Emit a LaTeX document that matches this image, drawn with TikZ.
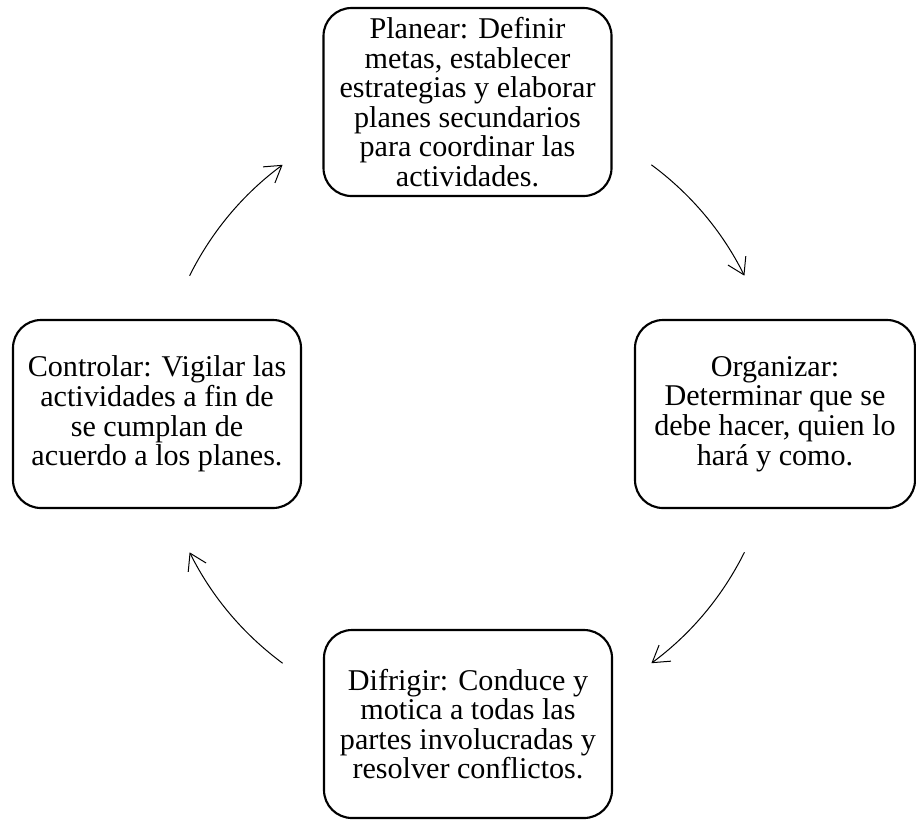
\documentclass[tikz,border=0pt]{standalone}
\usepackage{fontspec}
\setmainfont{Liberation Serif}
\usetikzlibrary{arrows.meta}
\begin{document}
\begin{tikzpicture}
    [
    x=0.75pt,y=-0.75pt,
    stage/.style={draw,line width=1.6pt,rounded corners=21pt,align=center,inner sep=2pt,
      minimum width=216pt,minimum height=141pt,font=\fontsize{22.6}{22.2}\selectfont},
    flowarrow/.style={line width=0.75pt,-{Straight Barb[length=12pt,width=15pt]},bend left=13.5,looseness=0.87}
    ]
    \useasboundingbox (0,0) rectangle (916,819);
    \node (plan) at (467.5,102) [stage] {Planear: Definir\\metas, establecer\\estrategias y elaborar\\planes secundarios\\para coordinar las\\actividades.};
    \node (org) at (775,414) [stage,minimum width=210pt] {Organizar:\\Determinar que se\\debe hacer, quien lo\\hará y como.};
    \node (dir) at (468,724) [stage] {Difrigir: Conduce y\\motica a todas las\\partes involucradas y\\resolver conflictos.};
    \node (ctrl) at (157,414) [stage] {Controlar: Vigilar las\\actividades a fin de\\se cumplan de\\acuerdo a los planes.};
    \coordinate (a1) at (189.6,275.7);
    \coordinate (b1) at (282.6,164.8);
    \coordinate (a2) at (651.4,164.8);
    \coordinate (b2) at (744.4,275.7);
    \coordinate (a3) at (744.4,552.3);
    \coordinate (b3) at (651.4,663.2);
    \coordinate (a4) at (282.6,663.2);
    \coordinate (b4) at (189.6,552.3);
    \draw [flowarrow] (a1) to (b1);
    \draw [flowarrow] (a2) to (b2);
    \draw [flowarrow] (a3) to (b3);
    \draw [flowarrow] (a4) to (b4);
  \end{tikzpicture}
\end{document}
